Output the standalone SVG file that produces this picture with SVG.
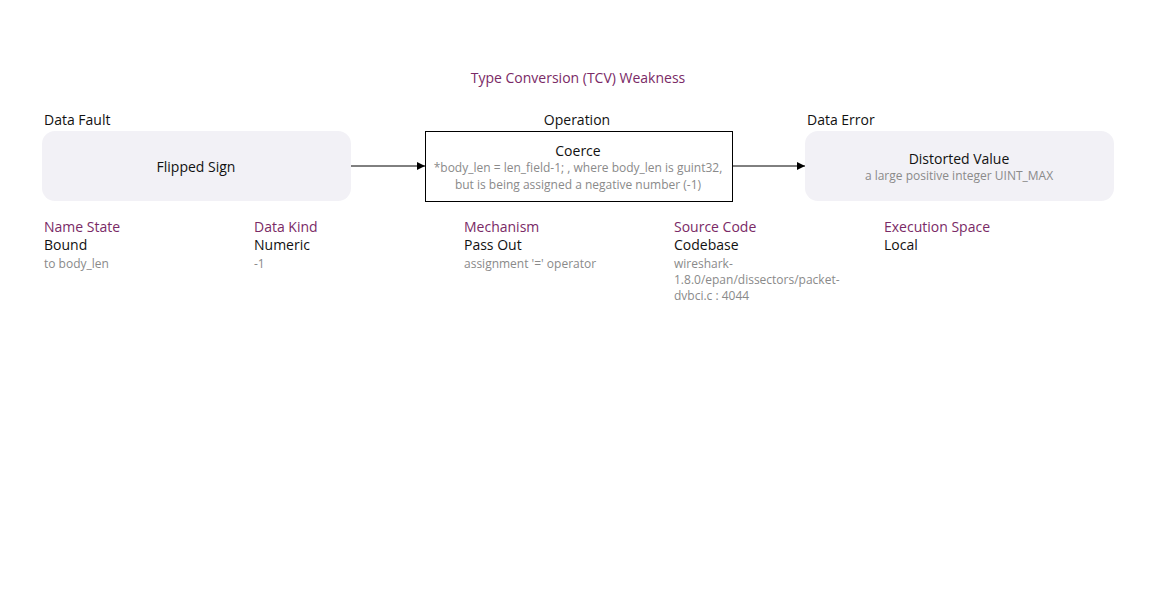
<svg xmlns="http://www.w3.org/2000/svg" width="1155" height="591" viewBox="0 0 1155 591">
  <defs>
    <marker id="arrow" viewBox="0 0 10 10" refX="10" refY="5" markerWidth="8" markerHeight="8" markerUnits="userSpaceOnUse" orient="auto">
      <path d="M0,0 L10,5 L0,10 z" fill="#000"/>
    </marker>
    <style>
      text { font-family: "Open Sans", "Noto Sans", sans-serif; }
      .title { font-size: 14px; fill: #7a2a66; text-anchor: middle; }
      .head { font-size: 14px; fill: #111; }
      .main { font-size: 14px; fill: #111; text-anchor: middle; }
      .sub { font-size: 12px; fill: #8a8a8a; text-anchor: middle; }
      .soft { fill: #f2f1f6; stroke: none; }
      .op { fill: #fff; stroke: #000; stroke-width: 1; }
      .attr { font-size: 14px; fill: #7a2a66; }
      .val { font-size: 14px; fill: #111; }
      .note { font-size: 12px; fill: #8a8a8a; }
      .edge { stroke: #000; stroke-width: 1; fill: none; marker-end: url(#arrow); }
    </style>
  </defs>
  <rect width="1155" height="591" fill="#fff"/>

  <text class="title" x="578" y="83">Type Conversion (TCV) Weakness</text>

  <g id="connectors">
    <line class="edge" x1="351" y1="166" x2="425" y2="166"/>
    <line class="edge" x1="733" y1="166" x2="805" y2="166"/>
  </g>

  <g id="data-fault">
    <text class="head" x="44" y="125">Data Fault</text>
    <rect class="soft" x="42" y="131" width="309" height="70" rx="13"/>
    <text class="main" x="196" y="172">Flipped Sign</text>
  </g>

  <g id="operation">
    <text class="head" x="577" y="125" text-anchor="middle">Operation</text>
    <rect class="op" x="425.5" y="131.5" width="307" height="70"/>
    <text class="main" x="578" y="156">Coerce</text>
    <text class="sub" x="578" y="172">*body_len = len_field-1; , where  body_len is guint32,</text>
    <text class="sub" x="578" y="189">but is being assigned a negative number  (-1)</text>
  </g>

  <g id="data-error">
    <text class="head" x="807" y="125">Data Error</text>
    <rect class="soft" x="805" y="131" width="309" height="70" rx="13"/>
    <text class="main" x="959" y="164">Distorted Value</text>
    <text class="sub" x="959" y="180">a large positive integer UINT_MAX</text>
  </g>

  <g id="name-state">
    <text class="attr" x="44" y="232">Name State</text>
    <text class="val" x="44" y="250">Bound</text>
    <text class="note" x="44" y="268">to body_len</text>
  </g>

  <g id="data-kind">
    <text class="attr" x="254" y="232">Data Kind</text>
    <text class="val" x="254" y="250">Numeric</text>
    <text class="note" x="254" y="268">-1</text>
  </g>

  <g id="mechanism">
    <text class="attr" x="464" y="232">Mechanism</text>
    <text class="val" x="464" y="250">Pass Out</text>
    <text class="note" x="464" y="268">assignment '=' operator</text>
  </g>

  <g id="source-code">
    <text class="attr" x="674" y="232">Source Code</text>
    <text class="val" x="674" y="250">Codebase</text>
    <text class="note" x="674" y="268">wireshark-</text>
    <text class="note" x="674" y="284">1.8.0/epan/dissectors/packet-</text>
    <text class="note" x="674" y="300">dvbci.c : 4044</text>
  </g>

  <g id="execution-space">
    <text class="attr" x="884" y="232">Execution Space</text>
    <text class="val" x="884" y="250">Local</text>
  </g>
</svg>
